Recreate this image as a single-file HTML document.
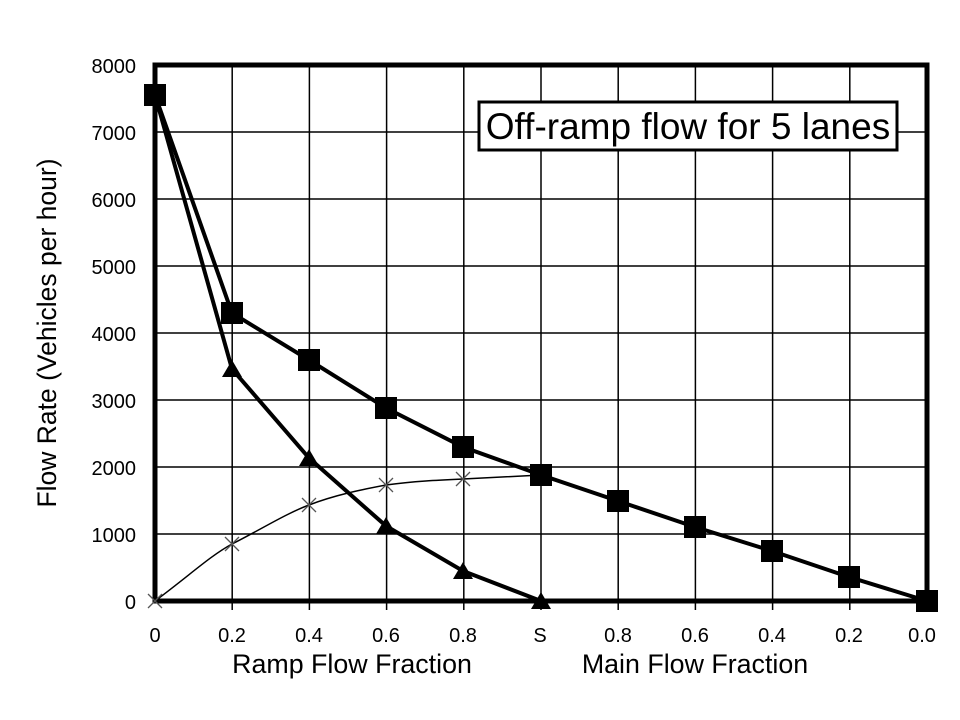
<!DOCTYPE html>
<html><head><style>body{margin:0;background:#fff}svg{display:block}</style></head><body>
<svg width="960" height="720" xmlns="http://www.w3.org/2000/svg" font-family="Liberation Sans, sans-serif">
<g stroke="#000" stroke-width="1.5">
<line x1="232.2" y1="65" x2="232.2" y2="610"/><line x1="309.4" y1="65" x2="309.4" y2="610"/><line x1="386.6" y1="65" x2="386.6" y2="610"/><line x1="463.8" y1="65" x2="463.8" y2="610"/><line x1="541" y1="65" x2="541" y2="610"/><line x1="618.2" y1="65" x2="618.2" y2="610"/><line x1="695.4" y1="65" x2="695.4" y2="610"/><line x1="772.6" y1="65" x2="772.6" y2="610"/><line x1="849.8" y1="65" x2="849.8" y2="610"/>
<line x1="155" y1="132" x2="927" y2="132"/><line x1="155" y1="199" x2="927" y2="199"/><line x1="155" y1="266" x2="927" y2="266"/><line x1="155" y1="333" x2="927" y2="333"/><line x1="155" y1="400" x2="927" y2="400"/><line x1="155" y1="467" x2="927" y2="467"/><line x1="155" y1="534" x2="927" y2="534"/>
</g>
<rect x="155" y="65" width="772" height="536" fill="none" stroke="#000" stroke-width="5"/>
<g font-size="20" text-anchor="end" fill="#000">
<text x="136" y="73">8000</text><text x="136" y="140">7000</text><text x="136" y="207">6000</text><text x="136" y="274">5000</text><text x="136" y="341">4000</text><text x="136" y="408">3000</text><text x="136" y="475">2000</text><text x="136" y="542">1000</text><text x="136" y="609">0</text>
</g>
<g font-size="20" text-anchor="middle">
<text x="155" y="642">0</text><text x="232" y="642">0.2</text><text x="309" y="642">0.4</text><text x="386" y="642">0.6</text><text x="463" y="642">0.8</text><text x="540" y="642">S</text><text x="618" y="642">0.8</text><text x="695" y="642">0.6</text><text x="772" y="642">0.4</text><text x="849" y="642">0.2</text><text x="922" y="642">0.0</text>
</g>
<text x="352" y="673" font-size="26.8" text-anchor="middle">Ramp Flow Fraction</text>
<text x="695" y="673" font-size="26.8" text-anchor="middle">Main Flow Fraction</text>
<text transform="translate(56,333) rotate(-90)" font-size="26.5" text-anchor="middle">Flow Rate (Vehicles per hour)</text>
<rect x="479" y="102" width="418" height="48" fill="#fff" stroke="#000" stroke-width="3"/>
<text x="688" y="139" font-size="37" text-anchor="middle">Off-ramp flow for 5 lanes</text>
<path d="M155,601 C190,575 210,556 232,544 C260,530 285,514 309,505 C335,495 360,490 386,485 C415,481 440,480 463,479 L541,475" fill="none" stroke="#000" stroke-width="1.5"/>
<g stroke="#555" stroke-width="1.3">
<path d="M148,594l14,14M162,594l-14,14"/><path d="M225,537l14,14M239,537l-14,14"/><path d="M302,498l14,14M316,498l-14,14"/><path d="M379,478l14,14M393,478l-14,14"/><path d="M456,472l14,14M470,472l-14,14"/>
</g>
<polyline points="155,95 232,369 309,458 386,526 463,571 541,601" fill="none" stroke="#000" stroke-width="4"/>
<polyline points="155,95 232,313 309,360 386,408 463,447 541,475 618,501 695,527 772,551 849,577 927,601" fill="none" stroke="#000" stroke-width="4"/>
<g fill="#000">
<path d="M232,360l10,17h-20z"/><path d="M309,449l10,17h-20z"/><path d="M386,517l10,17h-20z"/><path d="M463,562l10,17h-20z"/><path d="M541,592l10,17h-20z"/>
<rect x="144" y="84" width="22" height="22"/><rect x="221" y="302" width="22" height="22"/><rect x="298" y="349" width="22" height="22"/><rect x="375" y="397" width="22" height="22"/><rect x="452" y="436" width="22" height="22"/><rect x="530" y="464" width="22" height="22"/><rect x="607" y="490" width="22" height="22"/><rect x="684" y="516" width="22" height="22"/><rect x="761" y="540" width="22" height="22"/><rect x="838" y="566" width="22" height="22"/><rect x="916" y="590" width="22" height="22"/>
</g>
</svg>
</body></html>
